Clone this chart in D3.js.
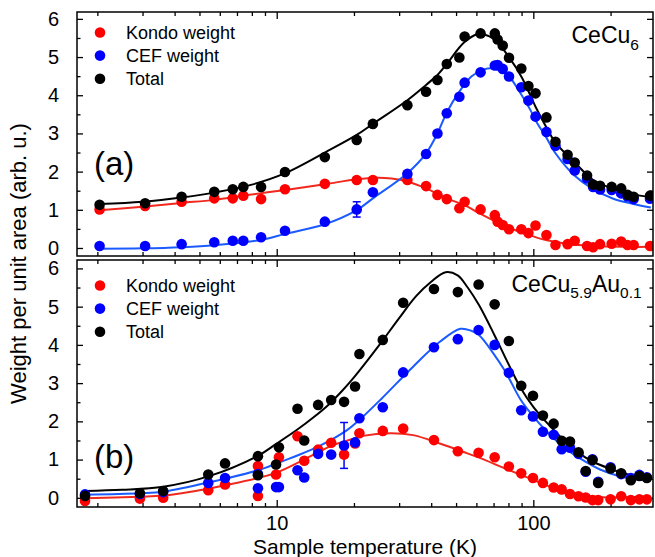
<!DOCTYPE html>
<html><head><meta charset="utf-8">
<script src="https://cdn.jsdelivr.net/npm/d3@7"></script>
<style>body{margin:0;background:#fff}svg{display:block;font-family:"Liberation Sans",Arial,sans-serif}</style>
</head><body>
<svg id="c" width="655" height="557"></svg>
<script>
// ---------- Panel (a): CeCu6 ----------
const tempA  = [2.04,3.07,4.26,5.71,6.74,7.41,8.69,10.77,15.4,20.5,23.7,32.3,38.2,42.3,46.0,51.5,54.0,62.3,70.8,72.6,76.0,80.4,89.8,95.7,102,112.5,122,136,145,162,171,182,202,220,233,246,285];
const kondoA = [1.01,1.10,1.21,1.30,1.30,1.37,1.28,1.54,1.68,1.78,1.78,1.78,1.62,1.39,1.28,1.04,1.21,1.01,0.86,0.69,0.60,0.49,0.49,0.39,0.59,0.34,0.08,0.10,0.19,0.05,0.02,0.10,0.11,0.17,0.08,0.08,0.05];
const cefA   = [0.05,0.05,0.10,0.15,0.19,0.19,0.28,0.45,0.69,1.01,1.46,1.94,2.46,3.00,3.53,3.96,4.33,4.60,4.78,4.79,4.69,4.49,4.21,3.86,3.44,3.04,2.68,2.33,2.03,1.82,1.60,1.53,1.52,1.43,1.35,1.28,1.29];
const totalA = [1.13,1.17,1.34,1.47,1.54,1.60,1.60,1.99,2.38,2.83,3.25,3.74,4.09,4.40,4.82,4.99,5.54,5.62,5.62,5.46,5.30,4.98,4.70,4.24,4.05,3.42,2.78,2.44,2.24,1.90,1.66,1.63,1.60,1.56,1.39,1.34,1.37];
const errA = {T:20.5, v:1.01, e:0.2};

const fitKondoA = [[2.04,0.99],[3,1.08],[4.26,1.18],[5.7,1.26],[8,1.40],[10.8,1.52],[15.4,1.67],[20.5,1.80],[24.5,1.84],[28,1.82],[32.3,1.74],[38.2,1.56],[46,1.30],[53.9,1.12],[62,0.90],[71,0.70],[80.5,0.53],[95,0.35],[113,0.20],[135,0.11],[171,0.05],[230,0.03],[287,0.03]];
const fitCefA   = [[2.04,-0.02],[3,-0.01],[4.26,0.02],[5.7,0.07],[8.69,0.21],[10.8,0.37],[15.4,0.62],[20.5,0.99],[23.7,1.30],[32.3,1.96],[38.2,2.48],[42.3,3.0],[46,3.55],[51.8,4.12],[57.5,4.50],[63.9,4.67],[69.9,4.70],[78.9,4.55],[88.6,4.08],[97.1,3.63],[103.3,3.28],[112,2.91],[122,2.48],[145,1.89],[171,1.54],[205,1.29],[243,1.16],[287,1.06]];
const fitTotalA = [[2.04,1.15],[3,1.21],[4.26,1.32],[5.7,1.45],[8,1.66],[10.8,1.96],[15.4,2.50],[20.5,2.96],[23.7,3.25],[32.3,3.87],[38.2,4.27],[42.3,4.53],[46,4.82],[51.5,5.25],[54.1,5.40],[59.9,5.59],[64,5.60],[71,5.45],[80.5,4.99],[90,4.48],[102,3.70],[112,3.18],[122,2.76],[146,2.22],[171,1.78],[205,1.55],[243,1.41],[287,1.33]];

// ---------- Panel (b): CeCu5.9Au0.1 ----------
const tempB  = [1.79,2.93,3.61,5.41,6.29,8.45,8.45,9.94,10.2,12.05,12.8,14.5,16.3,18.3,20.2,21.0,25.9,31.1,41.0,50.8,61.2,70.7,80.3,89.7,99.7,109,120,129,139,150,160,170,179,200,220,240,259,277];
const kondoB = [-0.08,-0.02,0.00,0.20,0.35,0.83,0.05,0.61,1.06,1.61,0.97,1.26,1.44,1.13,1.42,1.69,1.75,1.81,1.51,1.22,1.18,1.06,0.82,0.64,0.52,0.39,0.27,0.22,0.10,0.04,0.01,-0.06,-0.06,-0.04,0.04,-0.06,-0.04,-0.04];
const cefB   = [0.09,0.10,0.15,0.39,0.52,0.62,0.25,0.28,0.28,0.72,0.53,1.15,1.13,1.37,1.45,2.08,2.37,3.28,3.94,4.15,4.39,4.00,3.27,2.29,2.13,1.73,1.65,1.27,1.31,1.15,0.68,1.01,0.42,0.80,0.62,0.52,0.60,0.54];
const totalB = [0.05,0.12,0.18,0.61,0.90,1.09,0.59,0.87,1.32,2.33,1.50,2.43,2.56,2.51,2.91,3.76,4.13,5.10,5.46,5.38,5.58,5.06,4.10,2.93,2.67,2.15,1.94,1.49,1.47,1.19,0.70,0.99,0.39,0.77,0.64,0.46,0.57,0.52];
const errB = {T:18.3, v:1.37, e:0.6};

const fitKondoB = [[1.79,-0.01],[2.93,0.03],[3.61,0.06],[5.41,0.24],[6.3,0.33],[8.45,0.52],[10,0.66],[12.7,0.99],[16.3,1.36],[18.3,1.47],[21.7,1.62],[27.7,1.69],[34,1.64],[43.2,1.42],[55,1.17],[61.5,1.05],[80,0.73],[100,0.47],[120,0.26],[152,0.08],[193,0.01],[240,0.02],[287,0.03]];
const fitCefB   = [[1.79,0.08],[2.93,0.12],[3.61,0.16],[5.41,0.40],[6.3,0.50],[8.45,0.72],[10,0.90],[14.5,1.34],[18.8,1.77],[21.1,2.05],[25.5,2.58],[34,3.43],[43.2,4.08],[52,4.42],[57.3,4.37],[61.4,4.26],[70.5,3.74],[76.5,3.38],[80.4,3.13],[89,2.58],[100,2.13],[109,1.84],[120,1.56],[129,1.37],[140,1.19],[152,1.03],[182,0.74],[218,0.56],[277,0.45],[287,0.45]];
const fitTotalB = [[1.79,0.18],[2.5,0.21],[3.61,0.29],[5.41,0.56],[8.45,1.10],[10,1.42],[12,1.78],[14,2.12],[16,2.45],[18,2.80],[20,3.15],[25,3.98],[30,4.70],[35,5.28],[40,5.65],[45.5,5.90],[50.7,5.82],[55.5,5.50],[61.4,5.04],[70.5,4.26],[80.4,3.47],[89.5,2.86],[100,2.38],[109,2.08],[120,1.78],[129,1.56],[140,1.34],[152,1.15],[170,0.95],[199,0.76],[218,0.67],[238,0.60],[277,0.52],[287,0.51]];

// ---------- ticks & labels ----------
const xMajor = [10,100];
const xMinor = [2,3,4,5,6,7,8,9,20,30,40,50,60,70,80,90,200];
const yMajor = [0,1,2,3,4,5,6];
const yMinor = [0.5,1.5,2.5,3.5,4.5,5.5];
const legendLabels = ["Kondo weight","CEF weight","Total"];

// ---------- drawing ----------
const svg = d3.select("#c");
const L=77, R=653;
const x = d3.scaleLog().domain([1.666, 292.7]).range([L, R]);
const panels = [
  {top:12, bot:256, dom:[-0.21,6.18], T:tempA, K:kondoA, C:cefA, S:totalA, fK:fitKondoA, fC:fitCefA, fS:fitTotalA, err:errA, tag:"(a)", tagY:175, legY:32.5, xlabels:false, comp:"a"},
  {top:260, bot:507, dom:[-0.24,6.22], T:tempB, K:kondoB, C:cefB, S:totalB, fK:fitKondoB, fC:fitCefB, fS:fitTotalB, err:errB, tag:"(b)", tagY:468, legY:285.5, xlabels:true, comp:"b"}
];
const dotCol = ["#ff0000","#0000ff","#000000"];
const lineCol = ["#f0281e","#1a5aff","#000000"];
const FONT = "Liberation Sans, Arial, sans-serif";

panels.forEach(p => {
  const y = d3.scaleLinear().domain(p.dom).range([p.bot, p.top]);
  const g = svg.append("g");
  g.append("g").attr("transform",`translate(0,${p.bot})`)
    .call(d3.axisBottom(x).tickValues(xMajor).tickSize(-7).tickPadding(9).tickFormat(p.xlabels? d3.format("d") : ""))
    .call(s=>{s.select(".domain").remove(); s.selectAll("text").attr("font-size",20).attr("font-family",FONT).attr("fill","#000");});
  g.append("g").attr("transform",`translate(0,${p.bot})`)
    .call(d3.axisBottom(x).tickValues(xMinor).tickSize(-4).tickFormat(""))
    .call(s=>s.select(".domain").remove());
  g.append("g").attr("transform",`translate(0,${p.top})`)
    .call(d3.axisTop(x).tickValues(xMajor).tickSize(-7).tickFormat(""))
    .call(s=>s.select(".domain").remove());
  g.append("g").attr("transform",`translate(0,${p.top})`)
    .call(d3.axisTop(x).tickValues(xMinor).tickSize(-4).tickFormat(""))
    .call(s=>s.select(".domain").remove());
  g.append("g").attr("transform",`translate(${L},0)`)
    .call(d3.axisLeft(y).tickValues(yMajor).tickSize(-6).tickPadding(18).tickFormat(d3.format("d")))
    .call(s=>{s.select(".domain").remove(); s.selectAll("text").attr("font-size",20).attr("font-family",FONT).attr("fill","#000");});
  g.append("g").attr("transform",`translate(${L},0)`)
    .call(d3.axisLeft(y).tickValues(yMinor).tickSize(-3.5).tickFormat(""))
    .call(s=>s.select(".domain").remove());
  g.append("g").attr("transform",`translate(${R},0)`)
    .call(d3.axisRight(y).tickValues(yMajor).tickSize(-6).tickFormat(""))
    .call(s=>s.select(".domain").remove());
  g.append("g").attr("transform",`translate(${R},0)`)
    .call(d3.axisRight(y).tickValues(yMinor).tickSize(-3.5).tickFormat(""))
    .call(s=>s.select(".domain").remove());
  g.selectAll(".tick line").attr("stroke","#000").attr("stroke-width",1.3);

  const cid = "clip"+p.comp;
  svg.append("clipPath").attr("id",cid).append("rect").attr("x",L).attr("y",p.top).attr("width",R-L).attr("height",p.bot-p.top);
  const plot = svg.append("g").attr("clip-path",`url(#${cid})`);

  const line = d3.line().x(d=>x(d[0])).y(d=>y(d[1])).curve(d3.curveCatmullRom.alpha(0.5));
  [p.fK,p.fC,p.fS].forEach((f,i)=>{
    plot.append("path").datum(f).attr("d",line).attr("fill","none").attr("stroke",lineCol[i]).attr("stroke-width",2);
  });
  const e = p.err;
  const eg = plot.append("g").attr("stroke","#0000ff").attr("stroke-width",1.5);
  eg.append("line").attr("x1",x(e.T)).attr("x2",x(e.T)).attr("y1",y(e.v-e.e)).attr("y2",y(e.v+e.e));
  [e.v-e.e,e.v+e.e].forEach(v=>eg.append("line").attr("x1",x(e.T)-4).attr("x2",x(e.T)+4).attr("y1",y(v)).attr("y2",y(v)));
  [p.K,p.C,p.S].forEach((arr,i)=>{
    plot.append("g").selectAll("circle").data(arr.map((v,j)=>[p.T[j],v])).join("circle")
      .attr("cx",d=>x(d[0])).attr("cy",d=>y(d[1])).attr("r",5.3).attr("fill",dotCol[i]);
  });

  svg.append("rect").attr("x",L).attr("y",p.top).attr("width",R-L).attr("height",p.bot-p.top)
    .attr("fill","none").attr("stroke","#000").attr("stroke-width",1.5);

  legendLabels.forEach((t,i)=>{
    const cy = p.legY + i*23.1;
    svg.append("circle").attr("cx",100).attr("cy",cy).attr("r",5.3).attr("fill",dotCol[i]);
    svg.append("text").attr("x",126).attr("y",cy+6.3).attr("font-size",18).attr("fill","#000").text(t);
  });
  svg.append("text").attr("x",94).attr("y",p.tagY).attr("font-size",33).attr("fill","#000").text(p.tag);
});

const ta = svg.append("text").attr("x",571.5).attr("y",43.3).attr("font-size",23).attr("fill","#000");
ta.append("tspan").text("CeCu");
ta.append("tspan").attr("font-size",15.5).attr("dy",7).text("6");
const tb = svg.append("text").attr("x",511.5).attr("y",291.7).attr("font-size",23).attr("fill","#000");
tb.append("tspan").text("CeCu");
tb.append("tspan").attr("font-size",15.5).attr("dy",6).text("5.9");
tb.append("tspan").attr("dy",-6).text("Au");
tb.append("tspan").attr("font-size",15.5).attr("dy",6).text("0.1");

svg.append("text").attr("x",(L+R)/2).attr("y",554).attr("text-anchor","middle").attr("font-size",21).attr("fill","#000").text("Sample temperature (K)");
svg.append("text").attr("transform","translate(26,263.5) rotate(-90)").attr("text-anchor","middle").attr("font-size",22).attr("fill","#000").text("Weight per unit area (arb. u.)");
</script>
</body></html>
